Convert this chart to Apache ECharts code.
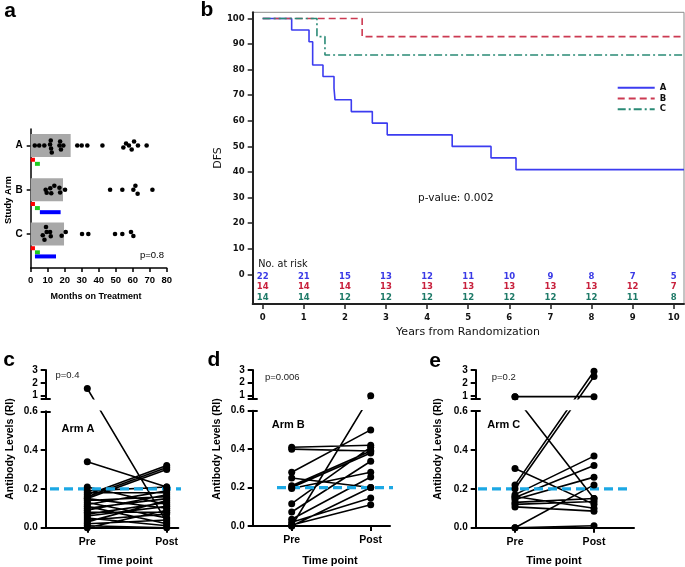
<!DOCTYPE html>
<html><head><meta charset="utf-8">
<script src="https://cdn.jsdelivr.net/npm/echarts@6/dist/echarts.min.js"></script>
<style>html,body{margin:0;padding:0;background:#fff}#c{width:685px;height:567px}</style>
</head><body><div id="c"></div>
<script>
// ---------- Panel a data ----------
const armCats = ['A', 'B', 'C'];
const boxMonths = [23.5, 19.0, 19.6];
const redSeg = [[0, 2.5], [0, 2.5], [0, 2.5]];
const greenSeg = [[2.5, 5.4], [2.5, 5.4], [2.5, 5.4]];
const blueSeg = [null, [5.4, 17.6], [2.5, 14.9]];
const monthsA = [2.4, 5.0, 8.0, 11.8, 11.4, 12.0, 12.4, 16.9, 17.3, 19.2, 17.8, 27.4, 30.0, 33.3, 42.2, 54.5, 56.1, 57.8, 59.4, 60.8, 63.1, 68.2];
const monthsB = [8.8, 9.4, 11.5, 12.1, 13.9, 16.9, 17.3, 20.2, 46.7, 53.9, 60.4, 61.6, 62.9, 71.6];
const monthsC = [7.1, 9.0, 8.1, 9.4, 11.4, 11.8, 18.2, 20.6, 30.2, 33.9, 49.6, 53.9, 59.0, 60.4];
const aTicks = ['0', '10', '20', '30', '40', '50', '60', '70', '80'];

// ---------- Panel b data ----------
const kmA_t = [0, 0.705, 1.127, 1.216, 1.467, 1.735, 1.76, 2.156, 2.667, 3.03, 4.61, 5.555, 6.163, 10.25];
const kmA_s = [100, 95.5, 90.9, 81.8, 77.3, 72.7, 68.2, 63.6, 59.1, 54.5, 50.0, 45.5, 40.9, 40.9];
const kmB_t = [0, 2.42, 10.25];
const kmB_s = [100, 92.9, 92.9];
const kmC_t = [0, 1.32, 1.515, 10.25];
const kmC_s = [100, 92.9, 85.7, 85.7];
const years = [0, 1, 2, 3, 4, 5, 6, 7, 8, 9, 10];
const dfsTicks = [0, 10, 20, 30, 40, 50, 60, 70, 80, 90, 100];
const riskA = [22, 21, 15, 13, 12, 11, 10, 9, 8, 7, 5];
const riskB = [14, 14, 14, 13, 13, 13, 13, 13, 13, 12, 7];
const riskC = [14, 14, 12, 12, 12, 12, 12, 12, 12, 11, 8];

// ---------- Panels c, d, e data ----------
const threshold = 0.2;
const cPre  = [1.55, 0.34, 0.21, 0.17, 0.16, 0.15, 0.19, 0.18, 0.15, 0.14, 0.13, 0.12, 0.11, 0.10, 0.09, 0.08, 0.07, 0.06, 0.05, 0.04, 0.03, 0.02, 0.01, 0.0];
const cPost = [0.03, 0.21, 0.12, 0.32, 0.31, 0.30, 0.21, 0.18, 0.10, 0.16, 0.05, 0.19, 0.02, 0.15, 0.17, 0.08, 0.13, 0.11, 0.01, 0.07, 0.14, 0.04, 0.0, 0.09];
const dPre  = [0.41, 0.40, 0.28, 0.25, 0.21, 0.20, 0.195, 0.116, 0.073, 0.035, 0.02, 0.005, 0.0, 0.0];
const dPost = [0.42, 0.39, 0.50, 0.20, 0.39, 0.38, 0.28, 0.41, 0.337, 0.255, 0.146, 0.111, 0.97, 0.20];
const ePre  = [0.95, 0.95, 0.22, 0.20, 0.304, 0.17, 0.155, 0.145, 0.13, 0.12, 0.107, 0.16, 0.0, 0.0];
const ePost = [0.95, 0.15, 2.9, 2.5, 0.12, 0.368, 0.32, 0.26, 0.15, 0.135, 0.085, 0.10, 0.22, 0.01];
const timeCats = ['Pre', 'Post'];

// ---------- layout ----------
const FA = 'Liberation Sans, Arial, sans-serif';
const FB = 'DejaVu Sans, Verdana, sans-serif';
const swarm = {
  A: [0, 0, 0, -5, -1, 3, 7, 0, -4, 0, 4, 0, 0, 0, 0, 2, -2, 0, 4, -4, 0, 0],
  B: [0, 3, -1.5, 3.5, -4, -2, 2.7, 0, 0, 0, 0, -4, 4, 0],
  C: [1.3, -7, 5.7, -2, -2, 2.3, 1.7, -2, 0, 0, 0, 0, -2, 2]
};
const catPos = {A: 3, B: 2, C: 1};
const catName = {1: 'C', 2: 'B', 3: 'A'};

const grids = [], xAxes = [], yAxes = [], series = [], texts = [];
const blk = {color: '#000', width: 1.5};

function txt(text, x, y, o) {
  o = o || {};
  const size = o.size || 10, weight = o.weight || 'bold', fam = o.family || FA;
  return {type: 'text', x: x, y: y, rotation: o.rot || 0, z: 100,
    style: {text: text, fill: o.color || '#000', font: weight + ' ' + size + 'px ' + fam,
      fontSize: size, fontWeight: weight, fontFamily: fam,
      align: o.align || 'center', textAlign: o.align || 'center',
      verticalAlign: 'middle', textVerticalAlign: 'middle'}};
}

// ---------- Panel a ----------
grids.push({left: 30.7, top: 129, width: 136, height: 139});
xAxes.push({gridIndex: 0, type: 'value', min: 0, max: 80, interval: 10, splitLine: {show: false},
  axisLine: {show: true, onZero: false, lineStyle: blk},
  axisTick: {show: true, length: 4, lineStyle: blk},
  axisLabel: {color: '#000', fontWeight: 'bold', fontSize: 9.5, fontFamily: FA, margin: 7,
    formatter: v => aTicks[Math.round(v / 10)]}});
yAxes.push({gridIndex: 0, type: 'value', min: 0.232, max: 3.374, splitLine: {show: false},
  axisLine: {show: true, onZero: false, lineStyle: blk},
  axisTick: {show: true, length: 4, customValues: [1, 2, 3], lineStyle: blk},
  axisLabel: {show: true, customValues: [1, 2, 3], formatter: v => catName[Math.round(v)],
    color: '#000', fontWeight: 'bold', fontSize: 10, fontFamily: FA, margin: 8}});

series.push({type: 'custom', xAxisIndex: 0, yAxisIndex: 0, z: 1,
  data: boxMonths.map((m, i) => [m, catPos[armCats[i]]]),
  renderItem: (p, api) => {
    const a = api.coord([0, api.value(1)]), b = api.coord([api.value(0), api.value(1)]);
    return {type: 'rect', shape: {x: a[0], y: a[1] - 11.5, width: b[0] - a[0], height: 23}, style: {fill: '#a8a8a8'}};
  }});
function segSeries(segs, color, off) {
  const data = [];
  segs.forEach((s, i) => { if (s) data.push([s[0], s[1], catPos[armCats[i]]]); });
  return {type: 'custom', xAxisIndex: 0, yAxisIndex: 0, z: 2, data: data,
    renderItem: (p, api) => {
      const a = api.coord([api.value(0), api.value(2)]), b = api.coord([api.value(1), api.value(2)]);
      return {type: 'rect', shape: {x: a[0], y: a[1] + off - 2, width: b[0] - a[0], height: 4}, style: {fill: color}};
    }};
}
series.push(segSeries(redSeg, '#ff0000', 14.2));
series.push(segSeries(greenSeg, '#1ecb1e', 18.3));
series.push(segSeries(blueSeg, '#0000ff', 22.4));
const dotData = [];
[['A', monthsA], ['B', monthsB], ['C', monthsC]].forEach(([k, arr]) => {
  arr.forEach((m, i) => dotData.push([m, catPos[k], swarm[k][i] || 0]));
});
series.push({type: 'custom', xAxisIndex: 0, yAxisIndex: 0, z: 3, data: dotData,
  renderItem: (p, api) => {
    const c = api.coord([api.value(0), api.value(1)]);
    return {type: 'circle', shape: {cx: c[0], cy: c[1] + api.value(2), r: 2.3}, style: {fill: '#000'}};
  }});
texts.push(txt('a', 10, 11, {size: 21}));
texts.push(txt('Study Arm', 8.5, 200, {size: 9.5, rot: Math.PI / 2}));
texts.push(txt('Months on Treatment', 96, 296.5, {size: 9}));
texts.push(txt('p=0.8', 152, 255.5, {size: 9.5, weight: 'normal'}));

// ---------- Panel b ----------
grids.push({left: 252.7, top: 12.3, width: 431.3, height: 291.7, show: true, borderColor: '#8a8a8a', borderWidth: 1});
const blk2 = {color: '#222', width: 2};
xAxes.push({gridIndex: 1, type: 'value', min: -0.243, max: 10.25, splitLine: {show: false},
  axisLine: {show: true, onZero: false, lineStyle: blk2},
  axisTick: {show: true, length: 5, customValues: years, lineStyle: {color: '#222', width: 1.5}},
  axisLabel: {customValues: years, color: '#111', fontWeight: 'bold', fontSize: 8.5, fontFamily: FB, margin: 9}});
yAxes.push({gridIndex: 1, type: 'value', min: -11.6, max: 102.4, splitLine: {show: false},
  axisLine: {show: true, onZero: false, lineStyle: blk2},
  axisTick: {show: true, length: 5, customValues: dfsTicks, lineStyle: {color: '#222', width: 1.5}},
  axisLabel: {customValues: dfsTicks, color: '#111', fontWeight: 'bold', fontSize: 8.5, fontFamily: FB, margin: 8}});
const kmColors = {A: '#3c3cf0', B: '#cc3a52', C: '#2a8a76'};
function km(name, t, s, type) {
  return {type: 'line', name: name, xAxisIndex: 1, yAxisIndex: 1, step: 'end', symbol: 'none', z: 5,
    data: t.map((x, i) => [x, s[i]]),
    itemStyle: {color: kmColors[name]},
    lineStyle: {color: kmColors[name], width: 1.6, type: type}};
}
series.push(km('A', kmA_t, kmA_s, 'solid'));
series.push(km('B', kmB_t, kmB_s, [7, 4]));
series.push(km('C', kmC_t, kmC_s, [8, 3, 2, 3]));
function riskSeries(vals, color, off) {
  return {type: 'custom', xAxisIndex: 1, yAxisIndex: 1, z: 6, data: years.map((y, i) => [y, vals[i]]),
    renderItem: (p, api) => {
      const c = api.coord([api.value(0), 0]);
      return {type: 'text', x: c[0], y: c[1] + off,
        style: {text: String(api.value(1)), fill: color, font: 'bold 8.5px ' + FB,
          align: 'center', verticalAlign: 'middle', textAlign: 'center', textVerticalAlign: 'middle'}};
    }};
}
series.push(riskSeries(riskA, '#3a3ae6', 2.6));
series.push(riskSeries(riskB, '#c8203c', 12.8));
series.push(riskSeries(riskC, '#1e7a68', 23.0));
texts.push(txt('b', 207, 10, {size: 21}));
texts.push(txt('DFS', 218.5, 158, {size: 11, weight: 'normal', family: FB, rot: Math.PI / 2, color: '#111'}));
texts.push(txt('Years from Randomization', 468, 332.5, {size: 11, weight: 'normal', family: FB, color: '#111'}));
texts.push(txt('p-value: 0.002', 418, 198.5, {size: 10.5, weight: 'normal', family: FB, align: 'left', color: '#111'}));
texts.push(txt('No. at risk', 258.3, 264.5, {size: 9.7, weight: 'normal', family: FB, align: 'left', color: '#111'}));

// ---------- Panels c, d, e ----------
const P = [
  {label: 'c', arm: 'Arm A', p: 'p=0.4', pre: cPre, post: cPost, yb: 527.7, y06: 411.3, y3: 370, y1: 395.5, ycap: 398.7,
   left: 45.7, xPre: 87.3, xPost: 166.7, right: 178.3, dash: [50, 193], armXY: [78, 428.7], pXY: [67.5, 375.3], titleX: 10.5, timeX: 125, labelXY: [9, 360]},
  {label: 'd', arm: 'Arm B', p: 'p=0.006', pre: dPre, post: dPost, yb: 526, y06: 410.7, y3: 370, y1: 395.3, ycap: 398.5,
   left: 252.7, xPre: 291.7, xPost: 370.7, right: 390, dash: [277, 406], armXY: [288.3, 424.7], pXY: [282.3, 377], titleX: 216.7, timeX: 330, labelXY: [214, 360]},
  {label: 'e', arm: 'Arm C', p: 'p=0.2', pre: ePre, post: ePost, yb: 527.7, y06: 411, y3: 370, y1: 396, ycap: 398.7,
   left: 475.7, xPre: 515, xPost: 594, right: 634, dash: [478, 628], armXY: [503.8, 425.3], pXY: [503.8, 377.7], titleX: 438.3, timeX: 554, labelXY: [435, 361]}
];

P.forEach((c) => {
  const L = (c.yb - c.y06) / 0.6, U = (c.y1 - c.y3) / 2;
  const vcap = 1 - (c.ycap - c.y1) / U;
  const ppx = c.xPost - c.xPre;
  const xmin = 1 - (c.xPre - c.left) / ppx, xmax = 2 + (c.right - c.xPost) / ppx;
  const isUp = v => v > 0.7;
  const toLow = v => isUp(v) ? (c.yb - (c.y1 - (v - 1) * U)) / L : v;
  const toUp = v => isUp(v) ? v : 1 + (c.y1 - (c.yb - v * L)) / U;
  const gLow = grids.length, gUp = gLow + 1;
  grids.push({left: c.left, top: c.y06, width: c.right - c.left, height: c.yb - c.y06});
  grids.push({left: c.left, top: c.y3, width: c.right - c.left, height: c.ycap - c.y3});
  const xLow = xAxes.length;
  xAxes.push({gridIndex: gLow, type: 'value', min: xmin, max: xmax, splitLine: {show: false},
    axisLine: {show: true, onZero: false, lineStyle: {color: '#000', width: 2}},
    axisTick: {show: true, length: 5, customValues: [1, 2], lineStyle: {color: '#000', width: 2}},
    axisLabel: {customValues: [1, 2], formatter: v => timeCats[Math.round(v) - 1], color: '#000',
      fontWeight: 'bold', fontSize: 10.5, fontFamily: FA, margin: 9}});
  const xUp = xAxes.length;
  xAxes.push({gridIndex: gUp, type: 'value', min: xmin, max: xmax, show: false, splitLine: {show: false}});
  const yLow = yAxes.length;
  yAxes.push({gridIndex: gLow, type: 'value', position: 'left', min: 0, max: 0.6, interval: 0.2, splitLine: {show: false},
    axisLine: {show: true, onZero: false, lineStyle: {color: '#000', width: 2}},
    axisTick: {show: true, length: 5, lineStyle: {color: '#000', width: 2}},
    axisLabel: {formatter: v => v.toFixed(1), color: '#000', fontWeight: 'bold', fontSize: 10, fontFamily: FA, margin: 8}});
  const yUp = yAxes.length;
  yAxes.push({gridIndex: gUp, type: 'value', position: 'left', min: vcap, max: 3, splitLine: {show: false},
    axisLine: {show: true, onZero: false, lineStyle: {color: '#000', width: 2}},
    axisTick: {show: true, length: 5, customValues: [vcap, 1, 2, 3], lineStyle: {color: '#000', width: 2}},
    axisLabel: {customValues: [1, 2, 3], formatter: v => String(Math.round(v)), color: '#000', fontWeight: 'bold', fontSize: 10, fontFamily: FA, margin: 8}});
  yAxes.push({gridIndex: gLow, type: 'value', position: 'left', min: 0, max: 0.6, splitLine: {show: false},
    axisLine: {show: false}, axisLabel: {show: false},
    axisTick: {show: true, inside: true, length: 5, customValues: [0.6], lineStyle: {color: '#000', width: 2}}});
  yAxes.push({gridIndex: gUp, type: 'value', position: 'left', min: vcap, max: 3, splitLine: {show: false},
    axisLine: {show: false}, axisLabel: {show: false},
    axisTick: {show: true, inside: true, length: 5, customValues: [vcap], lineStyle: {color: '#000', width: 2}}});

  function pairLines(conv) {
    const d = [];
    c.pre.forEach((a, i) => { d.push([1, conv(a)], [2, conv(c.post[i])], [1.5, '-']); });
    return d;
  }
  series.push({type: 'line', xAxisIndex: xLow, yAxisIndex: yLow, data: pairLines(toLow), clip: true, symbol: 'none',
    connectNulls: false, lineStyle: {color: '#000', width: 1.6}, z: 2});
  series.push({type: 'line', xAxisIndex: xUp, yAxisIndex: yUp, data: pairLines(toUp), clip: true, symbol: 'none',
    connectNulls: false, lineStyle: {color: '#000', width: 1.6}, z: 2});
  series.push({type: 'line', xAxisIndex: xLow, yAxisIndex: yLow, clip: false, symbol: 'none', z: 3,
    data: [[1 + (c.dash[0] - c.xPre) / ppx, threshold], [1 + (c.dash[1] - c.xPre) / ppx, threshold]],
    lineStyle: {color: '#1ca8e4', width: 3.2, type: [9, 5]}});
  const lowDots = [], upDots = [];
  c.pre.forEach((a, i) => {
    (isUp(a) ? upDots : lowDots).push([1, a]);
    const b = c.post[i];
    (isUp(b) ? upDots : lowDots).push([2, b]);
  });
  series.push({type: 'scatter', xAxisIndex: xLow, yAxisIndex: yLow, data: lowDots, clip: false, symbolSize: 7, itemStyle: {color: '#000', opacity: 1}, z: 4});
  series.push({type: 'scatter', xAxisIndex: xUp, yAxisIndex: yUp, data: upDots, clip: false, symbolSize: 7, itemStyle: {color: '#000', opacity: 1}, z: 4});

  texts.push(txt(c.label, c.labelXY[0], c.labelXY[1], {size: 21}));
  texts.push(txt(c.arm, c.armXY[0], c.armXY[1], {size: 11}));
  texts.push(txt(c.p, c.pXY[0], c.pXY[1], {size: 9.5, weight: 'normal', color: '#222'}));
  texts.push(txt('Antibody Levels (RI)', c.titleX, 449, {size: 10.5, rot: Math.PI / 2}));
  texts.push(txt('Time point', c.timeX, 561, {size: 11}));
});

const chart = echarts.init(document.getElementById('c'), null, {renderer: 'canvas', width: 685, height: 567});
chart.setOption({
  animation: false,
  backgroundColor: '#fff',
  grid: grids, xAxis: xAxes, yAxis: yAxes, series: series,
  legend: {data: ['A', 'B', 'C'], orient: 'vertical', left: 616.7, top: 83.3, itemWidth: 37, itemHeight: 10, itemGap: 1.7,
    padding: 0, selectedMode: false, itemStyle: {opacity: 0},
    textStyle: {color: '#111', fontWeight: 'bold', fontSize: 8.5, fontFamily: FB}},
  graphic: {elements: texts}
});
</script>
</body></html>
